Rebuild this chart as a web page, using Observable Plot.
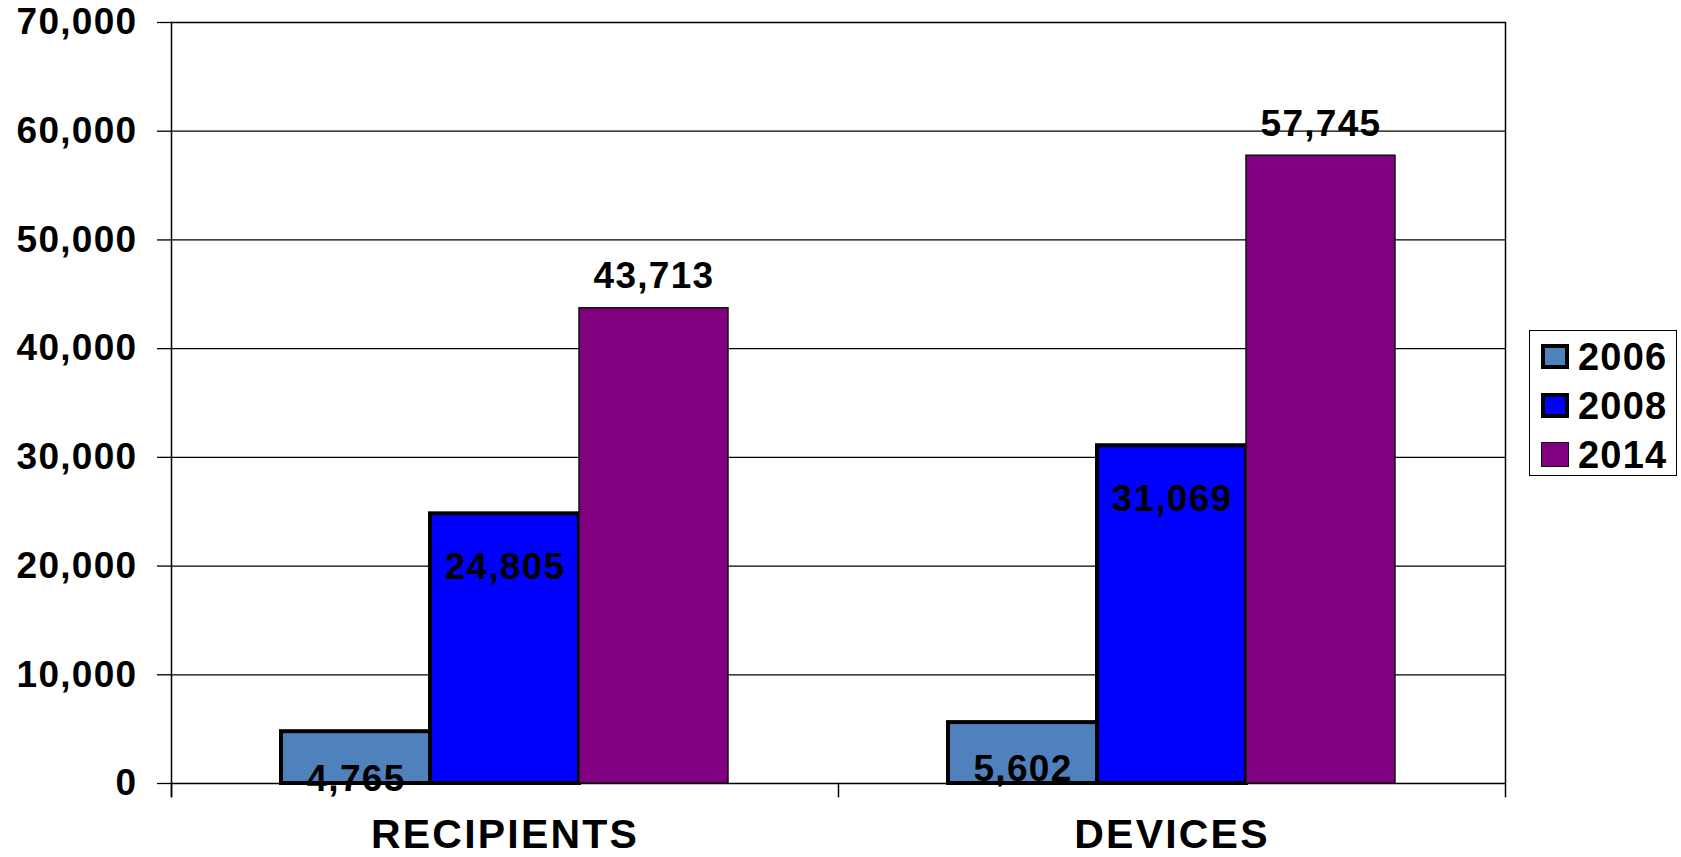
<!DOCTYPE html>
<html>
<head>
<meta charset="utf-8">
<script src="https://cdn.jsdelivr.net/npm/d3@7"></script>
<script src="https://cdn.jsdelivr.net/npm/@observablehq/plot@0.6"></script>
<style>
  html, body { margin: 0; padding: 0; background: #fff; }
  #wrap { position: relative; width: 1681px; height: 857px; font-family: 'Liberation Sans', Arial, sans-serif; }
  #legend { position: absolute; left: 1529px; top: 330px; width: 146px; height: 143px; border: 1.5px solid #000; background: #fff; padding-top: 1px; box-sizing: content-box; }
  .row { display: flex; align-items: center; height: 49px; }
  .sw { box-sizing: border-box; width: 28px; height: 25px; margin-left: 11px; margin-right: 9px; }
  .lab { font-weight: bold; font-size: 38px; color: #000; line-height: 1; letter-spacing: 1.2px; }
  #chart g[aria-label="y-axis tick label"] text { letter-spacing: 1.3px; }
  #chart g[aria-label="text"] text { letter-spacing: 1.3px; }
  #chart g[aria-label="fx-axis tick label"] text { letter-spacing: 2.2px; }
</style>
</head>
<body>
<div id="wrap"><div id="chart"></div><div id="legend"></div></div>
<script>
const categories = ["RECIPIENTS", "DEVICES"];
const years = ["2006", "2008", "2014"];
const values2006 = [4765, 5602];
const values2008 = [24805, 31069];
const values2014 = [43713, 57745];
const yTicks = [0, 10000, 20000, 30000, 40000, 50000, 60000, 70000];
const colors = ["#4F81BD", "#0000FF", "#800080"];

const series = {"2006": values2006, "2008": values2008, "2014": values2014};
const rows = years.flatMap(y => categories.map((c, i) => ({category: c, year: y, value: series[y][i]})));
const fmt = d3.format(",");
const font = "'Liberation Sans', Arial, sans-serif";

const chart = Plot.plot({
  width: 1681, height: 857,
  marginLeft: 170, marginRight: 176, marginTop: 22, marginBottom: 74,
  style: {fontFamily: font, fontWeight: "bold", background: "white", color: "black", fontSize: "37px"},
  fx: {domain: categories, paddingInner: 0, paddingOuter: 0},
  x: {domain: years, paddingInner: 0, paddingOuter: 0.735, axis: null},
  y: {domain: [0, 70000]},
  color: {domain: years, range: colors},
  marks: [
    Plot.ruleY(yTicks, {stroke: "#000", strokeWidth: 1.3}),
    Plot.frame({anchor: "left", facetAnchor: "left", insetBottom: -13, strokeWidth: 1.5}),
    Plot.frame({anchor: "right", facetAnchor: "right", insetBottom: -13, strokeWidth: 1.5}),
    Plot.frame({anchor: "left", insetTop: 761, insetBottom: -13, strokeWidth: 1.5}),
    Plot.barY(rows, {filter: d => d.year !== "2014", fx: "category", x: "year", y: "value", fill: "year", stroke: "#000", strokeWidth: 4}),
    Plot.barY(rows, {filter: d => d.year === "2014", fx: "category", x: "year", y: "value", fill: "year", stroke: "#111", strokeWidth: 1.5}),
    Plot.text(rows, {filter: d => d.year === "2006", fx: "category", x: "year", y: "value", text: d => fmt(d.value), dy: 47, fontSize: 37, fontWeight: "bold", fill: "#000"}),
    Plot.text(rows, {filter: d => d.year === "2008", fx: "category", x: "year", y: "value", text: d => fmt(d.value), dy: 53, fontSize: 37, fontWeight: "bold", fill: "#000"}),
    Plot.text(rows, {filter: d => d.year === "2014", fx: "category", x: "year", y: "value", text: d => fmt(d.value), dy: -32, fontSize: 37, fontWeight: "bold", fill: "#000"}),
    Plot.axisY({ticks: yTicks, tickSize: 14, tickPadding: 20, fontSize: 37, fontWeight: "bold", tickFormat: fmt, label: null, strokeWidth: 1.3}),
    Plot.axisFx({anchor: "bottom", tickSize: 0, tickPadding: 35, fontSize: 41, fontWeight: "bold", label: null})
  ]
});
document.getElementById("chart").appendChild(chart);

const legend = document.getElementById("legend");
years.forEach((y, i) => {
  const row = document.createElement("div");
  row.className = "row";
  const sw = document.createElement("div");
  sw.className = "sw";
  sw.style.background = colors[i];
  sw.style.border = (y === "2014") ? "1.5px solid #111" : "4px solid #000";
  const lab = document.createElement("span");
  lab.className = "lab";
  lab.textContent = y;
  row.appendChild(sw);
  row.appendChild(lab);
  legend.appendChild(row);
});
</script>
</body>
</html>
